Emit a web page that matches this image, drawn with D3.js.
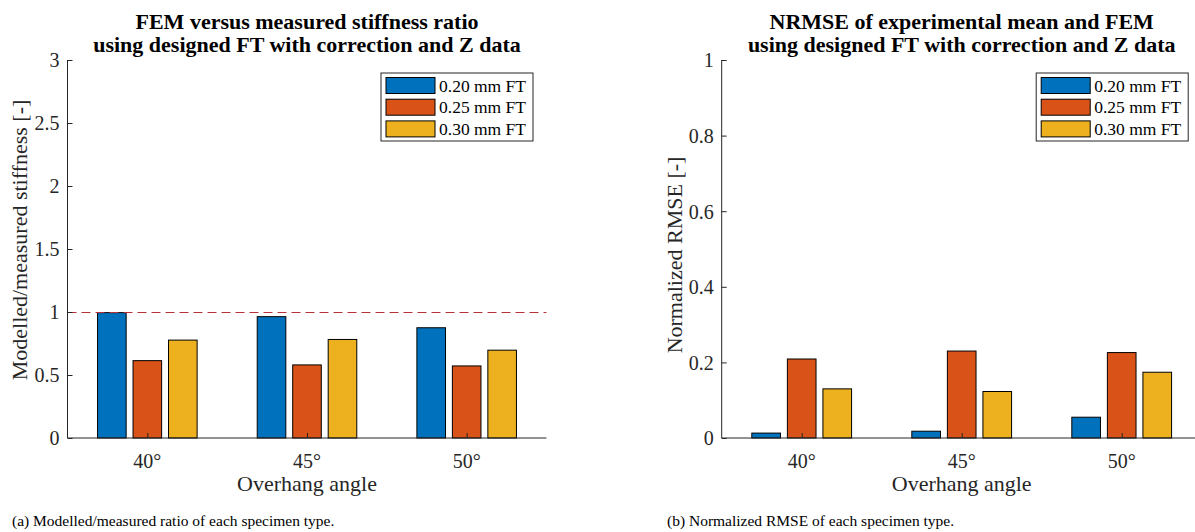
<!DOCTYPE html>
<html>
<head>
<meta charset="utf-8">
<script src="https://cdn.jsdelivr.net/npm/d3@7"></script>
<style>
  html, body { margin: 0; padding: 0; background: #fff; }
</style>
</head>
<body>
<div id="chart"></div>
<script>
// Categories and series
const angles = ["40°", "45°", "50°"]
const seriesNames = ["0.20 mm FT", "0.25 mm FT", "0.30 mm FT"]
const colors = ["#0072BD", "#D95319", "#EDB120"]

// (a) modelled / measured stiffness ratio
const ratio020 = [0.995, 0.963, 0.875]
const ratio025 = [0.614, 0.580, 0.572]
const ratio030 = [0.777, 0.782, 0.697]
const ratioTicks = [0, 0.5, 1, 1.5, 2, 2.5, 3]

// (b) normalized RMSE
const nrmse020 = [0.013, 0.018, 0.055]
const nrmse025 = [0.209, 0.230, 0.226]
const nrmse030 = [0.130, 0.123, 0.174]
const nrmseTicks = [0, 0.2, 0.4, 0.6, 0.8, 1]

const FONT = "'Liberation Serif', 'Times New Roman', serif"
const W = 1195, H = 532
const svg = d3.select("#chart").append("svg")
  .attr("width", W).attr("height", H)
  .attr("font-family", FONT)
svg.append("rect").attr("width", W).attr("height", H).attr("fill", "#fff")

function drawPanel(opts) {
  const { left, right, top, bottom, yMax, ticks, tickFmt, values, titleLines,
          yLabel, yLabelX, yLabelY, caption, captionX, refLine } = opts
  const g = svg.append("g")

  const x = d3.scaleLinear().domain([0.5, 3.5]).range([left, right])
  const unit = x(1) - x(0)
  const inner = d3.scaleBand().domain(seriesNames)
    .range([-unit / 3, unit / 3]).paddingInner(0.194).paddingOuter(0.097)
  const y = d3.scaleLinear().domain([0, yMax]).range([bottom, top])

  // bars
  seriesNames.forEach((s, si) => {
    g.selectAll(null).data(values[si]).enter().append("rect")
      .attr("x", (d, i) => x(i + 1) + inner(s))
      .attr("y", d => y(d))
      .attr("width", inner.bandwidth())
      .attr("height", d => y(0) - y(d))
      .attr("fill", colors[si])
      .attr("stroke", "#000")
      .attr("stroke-width", 1)
  })

  // reference line
  if (refLine != null) {
    g.append("line")
      .attr("x1", left).attr("x2", right)
      .attr("y1", y(refLine) + 0.5).attr("y2", y(refLine) + 0.5)
      .attr("stroke", "#b8303a").attr("stroke-width", 1)
      .attr("stroke-dasharray", "9,5")
  }

  // y axis (ticks inside)
  const yAxis = g.append("g")
    .attr("transform", `translate(${left},0)`)
    .call(d3.axisRight(y).tickValues(ticks).tickSize(5).tickFormat(tickFmt))
  yAxis.attr("font-family", FONT)
  yAxis.select(".domain").attr("stroke", "#262626").attr("d", `M0,${top}V${bottom}`)
  yAxis.selectAll(".tick line").attr("stroke", "#262626")
  yAxis.selectAll(".tick text")
    .attr("x", -8).attr("text-anchor", "end").attr("fill", "#262626")
    .attr("font-size", 20).attr("dy", "0.34em")

  // x axis
  const xAxis = g.append("g")
    .attr("transform", `translate(0,${bottom})`)
    .call(d3.axisTop(x).tickValues([1, 2, 3]).tickSize(5).tickFormat(""))
  xAxis.select(".domain").attr("stroke", "#262626").attr("d", `M${left},0H${right}`)
  xAxis.selectAll(".tick line").attr("stroke", "#262626")
  g.selectAll(null).data(angles).enter().append("text")
    .attr("x", (d, i) => x(i + 1)).attr("y", bottom + 30)
    .attr("text-anchor", "middle").attr("font-size", 20).attr("fill", "#262626")
    .text(d => d)

  const cx = (left + right) / 2
  g.append("text").attr("x", cx).attr("y", bottom + 53)
    .attr("text-anchor", "middle").attr("font-size", 22).attr("fill", "#262626")
    .text("Overhang angle")

  g.append("text")
    .attr("transform", `translate(${yLabelX},${yLabelY}) rotate(-90)`)
    .attr("text-anchor", "middle").attr("font-size", 22).attr("fill", "#262626")
    .text(yLabel)

  titleLines.forEach((t, i) => {
    g.append("text").attr("x", cx).attr("y", 29 + i * 23)
      .attr("text-anchor", "middle").attr("font-size", 22)
      .attr("font-weight", "bold").attr("fill", "#000").text(t)
  })

  // legend
  const lw = 152, lh = 68
  const lx = right - 13.5 - lw, ly = 73
  const leg = g.append("g").attr("transform", `translate(${lx},${ly})`)
  leg.append("rect").attr("width", lw).attr("height", lh)
    .attr("fill", "#fff").attr("stroke", "#262626").attr("stroke-width", 1)
  seriesNames.forEach((s, i) => {
    const ry = 4.5 + i * 21.7
    leg.append("rect").attr("x", 5).attr("y", ry).attr("width", 49).attr("height", 16)
      .attr("fill", colors[i]).attr("stroke", "#000").attr("stroke-width", 1)
    leg.append("text").attr("x", 58).attr("y", ry + 14)
      .attr("font-size", 17.5).attr("fill", "#000").text(s)
  })

  svg.append("text").attr("x", captionX).attr("y", 526)
    .attr("font-size", 15.5).attr("fill", "#000").text(caption)
}

drawPanel({
  left: 67.5, right: 546.5, top: 60, bottom: 438, yMax: 3,
  ticks: ratioTicks, tickFmt: d3.format("~g"),
  values: [ratio020, ratio025, ratio030],
  titleLines: ["FEM versus measured stiffness ratio", "using designed FT with correction and Z data"],
  yLabel: "Modelled/measured stiffness [-]", yLabelX: 27, yLabelY: 240,
  caption: "(a) Modelled/measured ratio of each specimen type.", captionX: 12,
  refLine: 1
})

drawPanel({
  left: 721.7, right: 1201.7, top: 60, bottom: 438, yMax: 1,
  ticks: nrmseTicks, tickFmt: d3.format("~g"),
  values: [nrmse020, nrmse025, nrmse030],
  titleLines: ["NRMSE of experimental mean and FEM", "using designed FT with correction and Z data"],
  yLabel: "Normalized RMSE [-]", yLabelX: 682, yLabelY: 255,
  caption: "(b) Normalized RMSE of each specimen type.", captionX: 667,
  refLine: null
})
</script>
</body>
</html>
